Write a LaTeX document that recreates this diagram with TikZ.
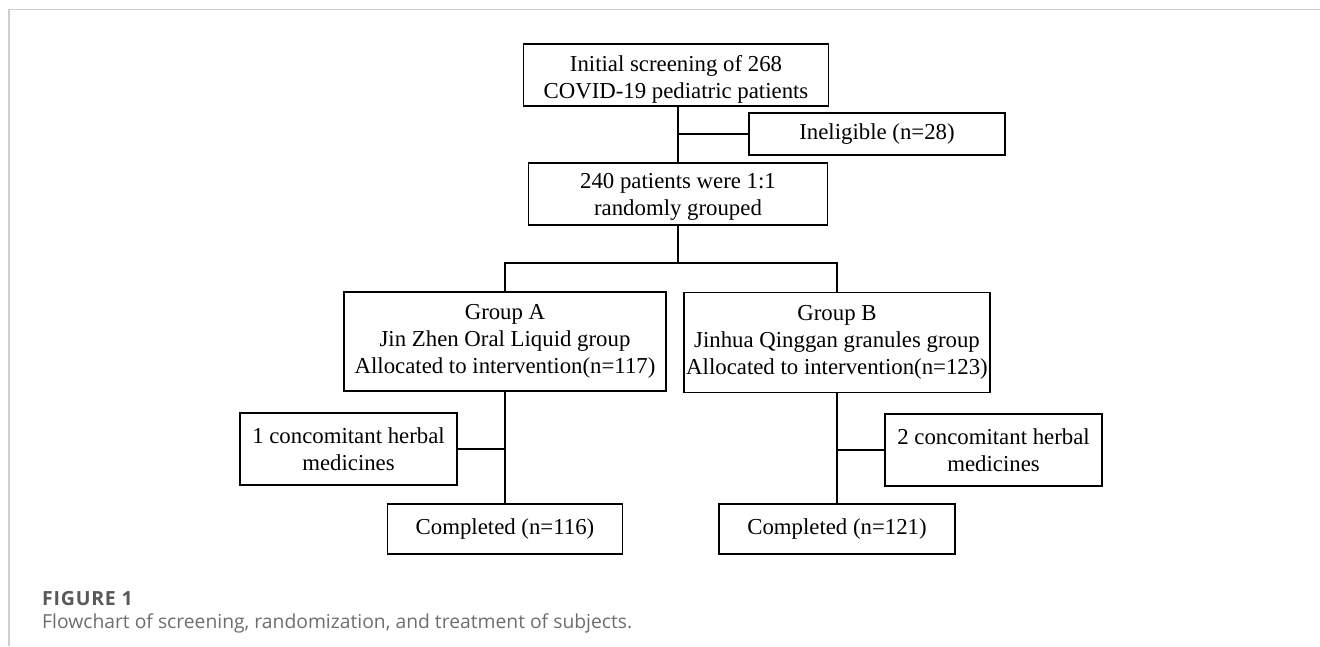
\documentclass[tikz,border=0pt]{standalone}
\usepackage{fontspec}
\setmainfont{Liberation Serif}
\newfontfamily\capfont{Open Sans}
\newfontfamily\capboldfont[LetterSpace=4]{Open Sans}
\definecolor{capdark}{HTML}{58595B}
\definecolor{caplight}{HTML}{6E6E71}
\definecolor{framegray}{HTML}{CFCFCF}
\newcommand{\lowlines}[2]{\raisebox{-#1}[\height][\depth]{\begin{tabular}{@{}c@{}}#2\end{tabular}}}
\begin{document}
\begin{tikzpicture}[x=1pt,y=-1pt,
  box/.style={draw=black, line width=1.8pt, fill=white, inner sep=0pt, align=center,
              font=\fontsize{22.8}{27}\selectfont},
  link/.style={draw=black, line width=1.8pt},
  captxt/.style={anchor=base west, inner sep=0pt, font=\capfont\fontsize{19.3}{22}\selectfont}]
\useasboundingbox[fill=white] (0,0) rectangle (1320,646);
\draw[framegray, line width=1.5pt] (9,646) -- (9,9.5) -- (1320,9.5);

% boxes
\node[box, minimum width=305pt, minimum height=62pt] (screen) at (676,75)
  {\lowlines{5pt}{Initial screening of 268\\COVID-19 pediatric patients}};
\node[box, minimum width=256pt, minimum height=42pt] (inel) at (877,134)
  {Ineligible (n=28)};
\node[box, minimum width=299pt, minimum height=62pt] (rand) at (678,194)
  {\lowlines{3pt}{240 patients were 1:1\\randomly grouped}};
\node[box, minimum width=322pt, minimum height=99pt] (grpA) at (505,341.5)
  {Group A\\Jin Zhen Oral Liquid group\\Allocated to intervention(n=117)};
\node[box, minimum width=306pt, minimum height=100pt] (grpB) at (837,342.5)
  {Group B\\Jinhua Qinggan granules group\\Allocated to intervention(n=123)};
\node[box, minimum width=217pt, minimum height=72pt] (herbA) at (348.5,449)
  {1 concomitant herbal\\medicines};
\node[box, minimum width=217pt, minimum height=72pt] (herbB) at (993.5,450)
  {2 concomitant herbal\\medicines};
\node[box, minimum width=235pt, minimum height=50pt] (compA) at (505,529)
  {Completed (n=116)};
\node[box, minimum width=236pt, minimum height=50pt] (compB) at (837,529)
  {Completed (n=121)};

% connectors
\draw[link] (rand.north) -- (rand.north |- screen.south);
\draw[link] (inel.west) -- (inel.west -| rand.north);
\coordinate (split) at (678,263);
\draw[link] (rand.south) -- (split);
\draw[link] (grpA.north) -- (grpA.north |- split) -- (grpB.north |- split) -- (grpB.north);
\draw[link] (grpA.south) -- (compA.north);
\draw[link] (grpB.south) -- (compB.north);
\draw[link] (herbA.east) -- (herbA.east -| grpA.south);
\draw[link] (herbB.west) -- (herbB.west -| grpB.south);

% caption
\node[captxt, text=capdark, font=\capboldfont\bfseries\fontsize{19.5}{22}\selectfont] (figlabel) at (42,605) {FIGURE 1};
\node[captxt, text=caplight] (figcap) at (42,628) {Flowchart of screening, randomization, and treatment of subjects.};
\end{tikzpicture}
\end{document}
